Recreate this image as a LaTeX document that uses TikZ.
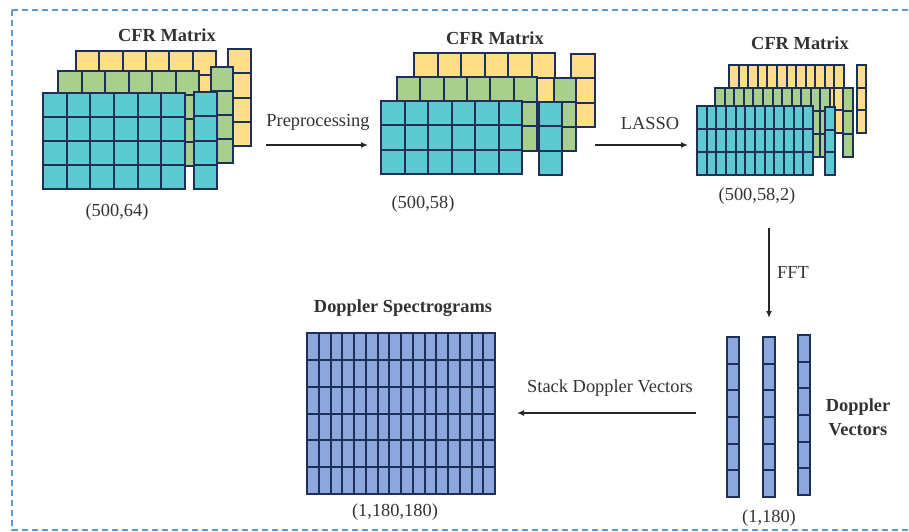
\documentclass[tikz,border=0pt]{standalone}
\usepackage{fontspec}
\setmainfont{Liberation Serif}
\usetikzlibrary{arrows.meta}
\definecolor{tealc}{RGB}{92,202,206}
\definecolor{greenc}{RGB}{168,208,140}
\definecolor{yellowc}{RGB}{255,222,135}
\definecolor{bluec}{RGB}{141,168,220}
\definecolor{navyc}{RGB}{28,48,90}
\definecolor{txtc}{RGB}{50,50,50}
\definecolor{borderc}{RGB}{91,155,213}
\tikzset{
  gridline/.style={draw=navyc,line width=1.5pt},
  lbl/.style={text=txtc,font=\fontsize{18.4}{20}\selectfont,inner sep=0pt},
  ttl/.style={text=txtc,font=\fontsize{18.4}{20}\selectfont\bfseries,inner sep=0pt},
  flow/.style={draw=black!85,line width=1.4pt,-{Latex[length=7pt,width=6pt]}},
  frame/.style={draw=borderc,line width=1.5pt,dash pattern=on 6pt off 4pt}
}
% x0,y0,x1,y1,cols,rows,fill
\newcommand{\cellgrid}[7]{%
  \fill[#7] (#1,#2) rectangle (#3,#4);
  \pgfmathtruncatemacro{\ncm}{#5-1}%
  \pgfmathtruncatemacro{\nrm}{#6-1}%
  \ifnum\ncm>0
    \foreach \k in {1,...,\ncm}{\pgfmathsetmacro{\gx}{round(#1+(#3-#1)*\k/#5)}\draw[gridline] (\gx,#2) -- (\gx,#4);}%
  \fi
  \ifnum\nrm>0
    \foreach \k in {1,...,\nrm}{\pgfmathsetmacro{\gy}{round(#2+(#4-#2)*\k/#6)}\draw[gridline] (#1,\gy) -- (#3,\gy);}%
  \fi
  \draw[gridline] (#1,#2) rectangle (#3,#4);
}
\begin{document}
\begin{tikzpicture}[x=1pt,y=-1pt]
\useasboundingbox (0,0) rectangle (909,532);
\clip (0,0) rectangle (909,532);
\draw[frame] (12,10) rectangle (930,530);

% group 1
\cellgrid{76}{51}{216}{147}{6}{4}{yellowc}
\cellgrid{228}{49}{251}{146}{1}{4}{yellowc}
\cellgrid{58}{71}{199}{166}{6}{4}{greenc}
\cellgrid{211}{67}{233}{163}{1}{4}{greenc}
\cellgrid{43}{93}{185}{189}{6}{4}{tealc}
\cellgrid{194}{92}{217}{189}{1}{4}{tealc}
\node[ttl] (t1) at (167,35) {CFR Matrix};
\node[lbl] (d1) at (117,212) {(500,64)};

% group 2
\cellgrid{414}{53}{555}{127}{6}{3}{yellowc}
\cellgrid{571}{54}{595}{127}{1}{3}{yellowc}
\cellgrid{397}{77}{537}{151}{6}{3}{greenc}
\cellgrid{554}{78}{576}{151}{1}{3}{greenc}
\cellgrid{381}{101}{522}{174}{6}{3}{tealc}
\cellgrid{539}{102}{562}{175}{1}{3}{tealc}
\node[ttl] (t2) at (495,38) {CFR Matrix};
\node[lbl] (d2) at (423,204) {(500,58)};

% group 3
\cellgrid{729}{65}{844}{133}{12}{3}{yellowc}
\cellgrid{857}{65}{866}{133}{1}{3}{yellowc}
\cellgrid{715}{88}{830}{157}{12}{3}{greenc}
\cellgrid{843}{88}{853}{157}{1}{3}{greenc}
\cellgrid{697}{106}{813}{175}{12}{3}{tealc}
\cellgrid{825}{107}{835}{175}{1}{3}{tealc}
\node[ttl] (t3) at (800,43) {CFR Matrix};
\node[lbl] (d3) at (757,196) {(500,58,2)};

% spectrogram
\cellgrid{307}{333}{495}{494}{16}{6}{bluec}
\node[ttl] (t4) at (403,308) {Doppler Spectrograms};
\node[lbl] (d4) at (395,512) {(1,180,180)};

% vectors
\cellgrid{727}{337}{739}{497}{1}{6}{bluec}
\cellgrid{763}{337}{775}{497}{1}{6}{bluec}
\cellgrid{798}{335}{810}{495}{1}{6}{bluec}
\node[ttl] (t5a) at (858,407) {Doppler};
\node[ttl] (t5b) at (858,430) {Vectors};
\node[lbl] (d5) at (769,518) {(1,180)};

% connectors
\coordinate (p1s) at (266,145); \coordinate (p1e) at (368,145);
\coordinate (p2s) at (595,145); \coordinate (p2e) at (688,145);
\coordinate (p3s) at (769,228); \coordinate (p3e) at (769,318);
\coordinate (p4s) at (696,413); \coordinate (p4e) at (517,413);
\draw[flow] (p1s) -- (p1e);
\draw[flow] (p2s) -- (p2e);
\draw[flow] (p3s) -- (p3e);
\draw[flow] (p4s) -- (p4e);
\node[lbl] (l1) at (318,122) {Preprocessing};
\node[lbl] (l2) at (650,123) {LASSO};
\node[lbl] (l3) at (793,272) {FFT};
\node[lbl] (l4) at (610,388) {Stack Doppler Vectors};
\end{tikzpicture}
\end{document}
